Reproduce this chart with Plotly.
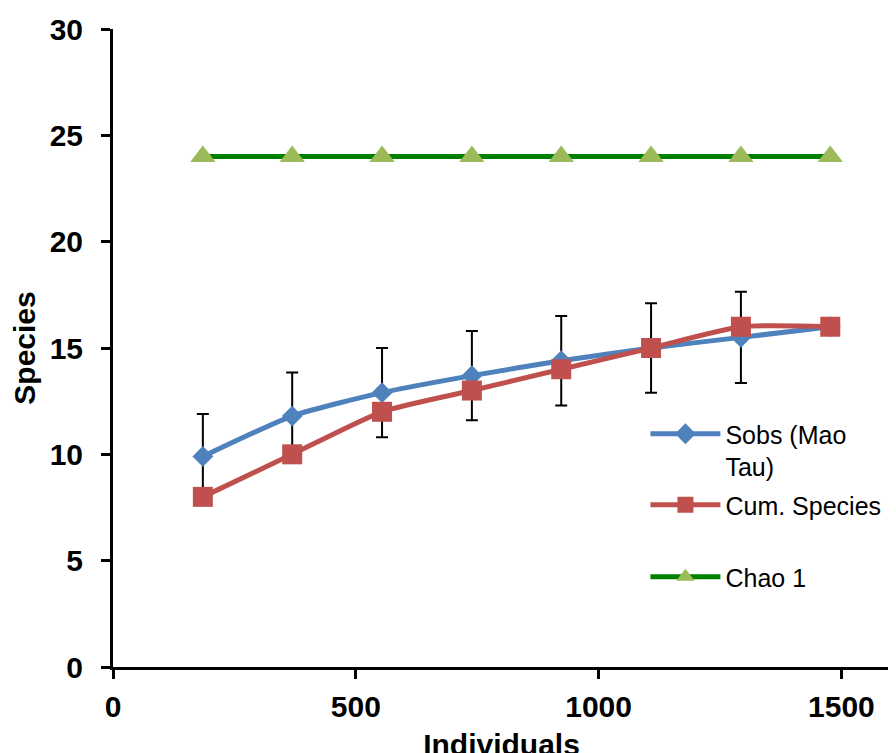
import plotly.graph_objects as go

individuals = [185, 369, 554, 739, 923, 1108, 1293, 1477]
sobs = [9.9, 11.8, 12.9, 13.7, 14.4, 15.0, 15.5, 16.0]
sobs_sd = [2.0, 2.05, 2.1, 2.1, 2.1, 2.1, 2.15, 0.0]
cum_species = [8, 10, 12, 13, 14, 15, 16, 16]
chao1 = [24, 24, 24, 24, 24, 24, 24, 24]

FONT = "Liberation Sans, Arial, sans-serif"

fig = go.Figure()
fig.add_trace(go.Scatter(
    x=individuals, y=sobs, name="Sobs (Mao<br>Tau)", mode="lines+markers",
    line=dict(color="#4F81BD", width=5, shape="spline", smoothing=0.6),
    marker=dict(symbol="diamond", size=16, color="#4F81BD"),
    error_y=dict(type="data", array=sobs_sd, visible=True, color="black",
                 thickness=2, width=6),
    legend="legend",
))
fig.add_trace(go.Scatter(
    x=individuals, y=cum_species, name="Cum. Species", mode="lines+markers",
    line=dict(color="#C0504D", width=5, shape="spline", smoothing=0.6),
    marker=dict(symbol="square", size=20, color="#C0504D"),
    legend="legend2",
))
fig.add_trace(go.Scatter(
    x=individuals, y=chao1, name="Chao 1", mode="lines+markers",
    line=dict(color="#008000", width=5),
    marker=dict(symbol="triangle-up", size=22, color="#9BBB59"),
    legend="legend3",
))

legend_common = dict(font=dict(family=FONT, size=25, color="black"),
                     bgcolor="rgba(0,0,0,0)", bordercolor="rgba(0,0,0,0)", borderwidth=6,
                     xref="paper", yref="paper",
                     xanchor="left", yanchor="middle", itemwidth=70, valign="top")
LEG_X = 0.6775
fig.update_layout(
    width=896, height=753,
    margin=dict(l=105, r=14, t=21, b=94, autoexpand=False),
    paper_bgcolor="white", plot_bgcolor="white",
    font=dict(family=FONT, color="black"),
    showlegend=True,
    legend=dict(x=LEG_X, y=(667 - 450) / 638, **legend_common),
    legend2=dict(x=LEG_X, y=(667 - 505) / 638, **legend_common),
    legend3=dict(x=LEG_X, y=(667 - 577) / 638, **legend_common),
    xaxis=dict(range=[0, 1600], tickvals=[0, 500, 1000, 1500], automargin=False,
               showgrid=False, zeroline=False, showline=True, linecolor="black",
               linewidth=3, ticks="outside", ticklen=9, tickwidth=3, tickcolor="black",
               ticklabelstandoff=2,
               tickfont=dict(family=FONT, size=30, color="black", weight="bold"),
               title=dict(text="Individuals", standoff=12,
                          font=dict(family=FONT, size=30, color="black", weight="bold"))),
    yaxis=dict(range=[0, 30], tickvals=[0, 5, 10, 15, 20, 25, 30], automargin=False,
               showgrid=False, zeroline=False, showline=True, linecolor="black",
               linewidth=3, ticks="outside", ticklen=9, tickwidth=3, tickcolor="black",
               ticklabelstandoff=12,
               tickfont=dict(family=FONT, size=30, color="black", weight="bold"),
               title=dict(text="Species", standoff=12,
                          font=dict(family=FONT, size=30, color="black", weight="bold"))),
)
fig.write_html("out.html")
